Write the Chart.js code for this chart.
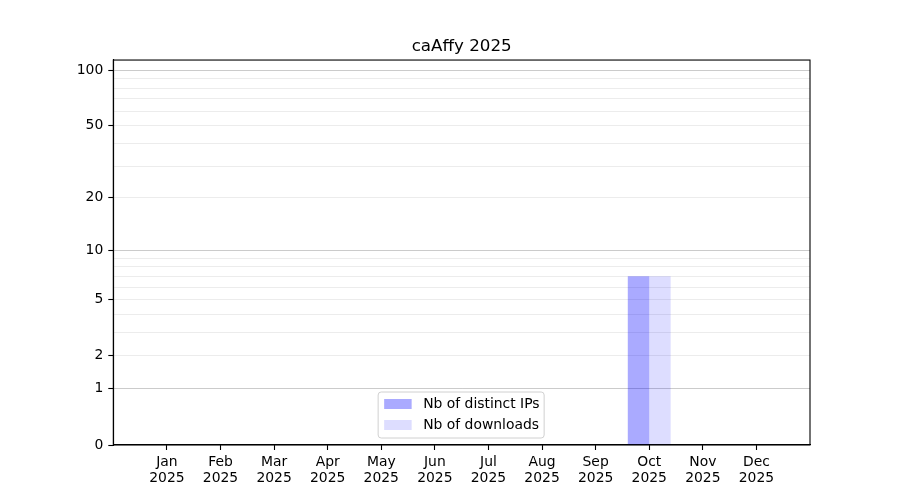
<!DOCTYPE html>
<html>
<head>
<meta charset="utf-8">
<script src="https://cdn.jsdelivr.net/npm/chart.js@4/dist/chart.umd.min.js"></script>
<style>
  html, body { margin: 0; padding: 0; background: #fff; }
  #wrap { width: 900px; height: 500px; position: relative; }
</style>
</head>
<body>
<div id="wrap"><canvas id="c" width="900" height="500"></canvas></div>
<script>
const TITLE = 'caAffy 2025';
const MONTHS = ['Jan', 'Feb', 'Mar', 'Apr', 'May', 'Jun', 'Jul', 'Aug', 'Sep', 'Oct', 'Nov', 'Dec'];
const YEAR = '2025';
const DISTINCT_IPS = [0, 0, 0, 0, 0, 0, 0, 0, 0, 7, 0, 0];
const DOWNLOADS = [0, 0, 0, 0, 0, 0, 0, 0, 0, 7, 0, 0];
const SERIES_LABELS = ['Nb of distinct IPs', 'Nb of downloads'];
const Y_LABELED_TICKS = [0, 1, 2, 5, 10, 20, 50, 100];
const Y_MAJOR_GRID = [1, 10, 100];
const Y_MINOR_GRID = [2, 3, 4, 5, 6, 7, 8, 9, 20, 30, 40, 50, 60, 70, 80, 90];
const Y_MIN = 0, Y_MAX = 113.6;

const FONT = "'DejaVu Sans', sans-serif";

class Log1pScale extends Chart.Scale {
  static id = 'log1p';
  static defaults = {};
  determineDataLimits() {
    this.min = this.options.min;
    this.max = this.options.max;
  }
  buildTicks() {
    const vals = Array.from(new Set([...Y_LABELED_TICKS, ...Y_MAJOR_GRID, ...Y_MINOR_GRID])).sort((a, b) => a - b);
    return vals.map(v => ({ value: v }));
  }
  generateTickLabels(ticks) {
    ticks.forEach(t => { t.label = Y_LABELED_TICKS.includes(t.value) ? String(t.value) : ''; });
  }
  configure() {
    super.configure();
    this._s = Math.log10(1 + this.min);
    this._r = Math.log10(1 + this.max) - this._s;
  }
  getPixelForValue(v) {
    return this.getPixelForDecimal((Math.log10(1 + v) - this._s) / this._r);
  }
  getValueForPixel(p) {
    return Math.pow(10, this._s + this.getDecimalForPixel(p) * this._r) - 1;
  }
  getLabelForValue(v) { return String(v); }
}
Chart.register(Log1pScale);

const labels = [''].concat(MONTHS.map(m => [m, YEAR])).concat(['']);
const pad = arr => [null].concat(arr).concat([null]);

const boxPlugin = {
  id: 'box',
  afterDatasetsDraw(chart) {
    const { ctx, chartArea: a } = chart;
    ctx.save();
    ctx.strokeStyle = '#000';
    ctx.lineWidth = 1.1;
    ctx.strokeRect(a.left, a.top, a.right - a.left, a.bottom - a.top);
    ctx.restore();
  }
};

const legendPlugin = {
  id: 'mplLegend',
  afterDraw(chart) {
    const { ctx, chartArea: a } = chart;
    const ds = chart.data.datasets;
    const cx = (a.left + a.right) / 2;
    const w = 166, h = 46;
    const x0 = cx - w / 2 - 0.5, y0 = a.bottom - 7 - h;
    ctx.save();
    ctx.beginPath();
    if (ctx.roundRect) ctx.roundRect(x0, y0, w, h, 3); else ctx.rect(x0, y0, w, h);
    ctx.fillStyle = 'rgba(255,255,255,0.8)';
    ctx.fill();
    ctx.strokeStyle = '#d0d0d0';
    ctx.lineWidth = 1;
    ctx.stroke();
    ctx.font = '13.9px ' + FONT;
    ctx.textBaseline = 'middle';
    ds.forEach((d, i) => {
      const yc = y0 + 12 + i * 21;
      ctx.fillStyle = d.backgroundColor;
      ctx.fillRect(x0 + 6, yc - 5, 27.5, 10);
      ctx.fillStyle = '#000';
      ctx.fillText(d.label, x0 + 45, yc);
    });
    ctx.restore();
  }
};

new Chart(document.getElementById('c'), {
  type: 'bar',
  data: {
    labels: labels,
    datasets: [
      { label: SERIES_LABELS[0], data: pad(DISTINCT_IPS), backgroundColor: 'rgba(0,0,255,0.333)', borderWidth: 0 },
      { label: SERIES_LABELS[1], data: pad(DOWNLOADS), backgroundColor: 'rgba(0,0,255,0.133)', borderWidth: 0 }
    ]
  },
  options: {
    responsive: false,
    animation: false,
    devicePixelRatio: 1,
    categoryPercentage: 0.8,
    barPercentage: 1.0,
    layout: { padding: { left: 0, right: 90, top: 0, bottom: 0 } },
    plugins: {
      legend: { display: false },
      tooltip: { enabled: false },
      title: {
        display: true,
        text: TITLE,
        fullSize: false,
        color: '#000',
        font: { family: FONT, size: 16.7, weight: 'normal', lineHeight: 1.2 },
        padding: { top: 36.7, bottom: 3.3 }
      }
    },
    scales: {
      x: {
        type: 'category',
        offset: false,
        afterFit: s => { s.height = 55; },
        border: { display: true, color: '#000', width: 1.1 },
        grid: {
          offset: false,
          drawOnChartArea: false,
          drawTicks: true,
          tickLength: 5,
          tickWidth: 1.1,
          tickColor: c => (c.tick && c.tick.label && c.tick.label !== '') ? '#000' : 'rgba(0,0,0,0)'
        },
        ticks: {
          color: '#000',
          autoSkip: false,
          maxRotation: 0,
          padding: 5,
          font: { family: FONT, size: 13.9, lineHeight: 1.1 }
        }
      },
      y: {
        type: 'log1p',
        min: Y_MIN,
        max: Y_MAX,
        afterFit: s => { s.width = 113.3; },
        border: { display: true, color: '#000', width: 1.1 },
        grid: {
          drawTicks: true,
          tickLength: 5,
          tickWidth: 1.1,
          lineWidth: 1,
          color: c => {
            const v = c.tick ? c.tick.value : null;
            if (Y_MAJOR_GRID.includes(v)) return '#cbcbcb';
            if (Y_MINOR_GRID.includes(v)) return '#ececec';
            return 'rgba(0,0,0,0)';
          },
          tickColor: c => (c.tick && c.tick.label) ? '#000' : 'rgba(0,0,0,0)'
        },
        ticks: {
          color: '#000',
          autoSkip: false,
          padding: 5,
          font: { family: FONT, size: 13.9 }
        }
      }
    }
  },
  plugins: [boxPlugin, legendPlugin]
});
</script>
</body>
</html>
